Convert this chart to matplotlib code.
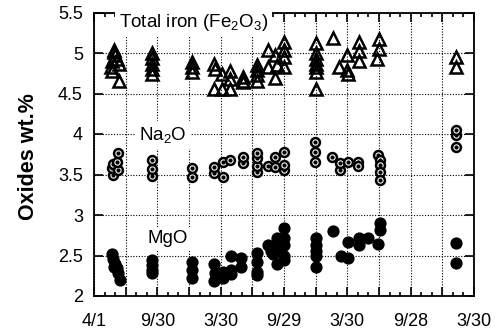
import matplotlib
matplotlib.use("Agg")
import matplotlib.pyplot as plt
from matplotlib.ticker import MultipleLocator

plt.rcParams["font.family"] = ["Liberation Sans", "DejaVu Sans"]
plt.rcParams["mathtext.default"] = "regular"

# x values are months after the first sampling date (4/1)
fe_month = [1.9, 2.0, 2.2, 1.7, 2.4, 1.6, 1.7, 2.4, 1.9,
            5.5, 5.5, 5.5, 5.5, 5.5,
            9.3, 9.3, 9.3,
            11.4, 11.5, 12.1, 12.9, 12.9, 11.4, 12.1, 12.9,
            14.1, 14.1, 14.1,
            15.4, 15.4, 15.4, 15.4,
            16.5, 16.5, 17.1, 17.1, 17.3, 18.0, 18.0, 18.0, 18.0,
            21.0, 21.0, 21.0, 21.0, 21.0, 21.0, 21.0,
            22.6, 23.2, 24.0, 24.0, 24.1, 25.1, 25.1, 25.1,
            27.0, 27.0, 26.8, 34.3, 34.3]
fe_value = [5.04, 4.98, 4.93, 4.90, 4.86, 4.83, 4.78, 4.65, 5.01,
            5.00, 4.94, 4.87, 4.80, 4.74,
            4.89, 4.83, 4.77,
            4.86, 4.80, 4.74, 4.78, 4.68, 4.55, 4.55, 4.56,
            4.70, 4.66, 4.64,
            4.85, 4.79, 4.73, 4.65,
            5.04, 4.83, 4.98, 4.69, 4.85, 5.13, 5.04, 4.95, 4.83,
            5.12, 5.00, 4.93, 4.87, 4.83, 4.77, 4.56,
            5.19, 4.83, 4.97, 4.79, 4.74, 5.14, 5.02, 4.90,
            5.17, 5.05, 4.93, 4.95, 4.83]

na_month = [1.8, 1.7, 1.8, 2.3, 2.2, 2.3,
            5.5, 5.5, 5.5,
            9.3, 9.3,
            11.4, 11.4, 12.2, 12.2, 12.9, 14.1, 14.1,
            15.4, 15.4, 15.4, 15.4, 16.5, 17.1, 17.1, 18.0, 18.0, 18.0,
            20.9, 20.9, 20.9, 22.5, 23.3, 23.3, 24.1, 25.0, 25.0,
            26.9, 27.1, 27.1, 27.1, 27.1, 34.3, 34.3, 34.3]
na_value = [3.50, 3.58, 3.63, 3.55, 3.65, 3.77,
            3.48, 3.57, 3.68,
            3.47, 3.58,
            3.52, 3.59, 3.47, 3.66, 3.68, 3.64, 3.72,
            3.53, 3.60, 3.70, 3.77, 3.60, 3.59, 3.72, 3.56, 3.62, 3.78,
            3.66, 3.78, 3.90, 3.72, 3.56, 3.64, 3.66, 3.66, 3.60,
            3.74, 3.68, 3.62, 3.53, 3.43, 3.84, 3.99, 4.05]

mg_month = [1.7, 1.8, 2.0, 1.9, 2.2, 2.3, 2.5,
            5.5, 5.5, 5.5, 5.5,
            9.3, 9.3, 9.3,
            11.4, 11.5, 11.4, 12.2, 12.2, 13.0, 13.0, 13.0, 13.9, 13.9,
            15.4, 15.4, 15.4, 15.4, 16.5, 16.8, 17.3, 17.3, 17.3, 17.0,
            18.0, 18.0, 18.0, 18.0, 18.0,
            21.0, 21.0, 21.0, 21.0, 21.0, 22.6, 23.4, 24.1, 24.1,
            25.1, 25.1, 26.0, 27.1, 27.1, 26.9, 34.3, 34.3]
mg_value = [2.52, 2.46, 2.40, 2.36, 2.34, 2.28, 2.20,
            2.44, 2.38, 2.32, 2.28,
            2.42, 2.32, 2.22,
            2.40, 2.28, 2.18, 2.30, 2.22, 2.49, 2.32, 2.27, 2.47, 2.36,
            2.53, 2.42, 2.30, 2.26, 2.63, 2.55, 2.71, 2.59, 2.40, 2.52,
            2.84, 2.71, 2.63, 2.50, 2.44,
            2.71, 2.63, 2.55, 2.49, 2.36, 2.80, 2.50, 2.67, 2.47,
            2.71, 2.63, 2.71, 2.90, 2.82, 2.64, 2.65, 2.41]

tick_months = list(range(0, 37, 3))
date_labels = ["4/1", "9/30", "3/30", "9/29", "3/30", "9/28", "3/30"]

figure = plt.figure(figsize=(4.95, 3.35), dpi=100)
axis = figure.add_axes([94 / 495, 39 / 335, 380 / 495, 283.5 / 335])

axis.plot(fe_month, fe_value, linestyle="none", marker="^", markersize=8,
          markerfacecolor="none", markeredgecolor="black",
          markeredgewidth=1.8, zorder=3)

# open circles with a centre dot, drawn one by one so later ones cover earlier
for index, (month, value) in enumerate(zip(na_month, na_value)):
    order = 3 + index * 0.01
    axis.plot(month, value, linestyle="none", marker="o", markersize=6.4,
              markerfacecolor="white", markeredgecolor="black",
              markeredgewidth=1.8, zorder=order)
    axis.plot(month, value, linestyle="none", marker="o", markersize=2,
              color="black", zorder=order + 0.005)

axis.plot(mg_month, mg_value, linestyle="none", marker="o", markersize=7.8,
          color="black", zorder=3)

text_box = dict(facecolor="white", edgecolor="none", pad=2.5)
axis.text(2.37, 5.325, "Total iron (Fe$_2$O$_3$)", fontsize=13.5,
          va="baseline", bbox=text_box, zorder=5)
axis.text(4.27, 3.926, "Na$_2$O", fontsize=13.5, va="baseline",
          bbox=text_box, zorder=5)
axis.text(5.06, 2.65, "MgO", fontsize=13.5, va="baseline",
          bbox=text_box, zorder=5)

axis.set_xlim(0, 36)
axis.set_ylim(2, 5.5)
axis.set_xticks(tick_months)
axis.set_xticklabels(
    [date_labels[m // 6] if m % 6 == 0 else "" for m in tick_months])
axis.xaxis.set_minor_locator(MultipleLocator(1))
axis.yaxis.set_major_locator(MultipleLocator(0.5))
axis.yaxis.set_major_formatter(lambda v, pos: f"{v:g}")

axis.tick_params(which="both", direction="in", top=True, right=True,
                 labelsize=13, width=1.2)
axis.tick_params(which="major", length=6.5)
axis.tick_params(which="minor", length=3)
axis.tick_params(axis="x", pad=12)
axis.tick_params(axis="y", pad=8)
for spine in axis.spines.values():
    spine.set_linewidth(1.3)

axis.grid(which="major", color="black", linestyle=(0, (1, 1.5)),
          linewidth=0.8)

figure.text(28 / 495, 1 - 157 / 335, "Oxides wt.%", rotation=90,
            ha="center", va="center", fontsize=15.5, fontweight="bold")

figure.savefig("out.png", dpi=100)
